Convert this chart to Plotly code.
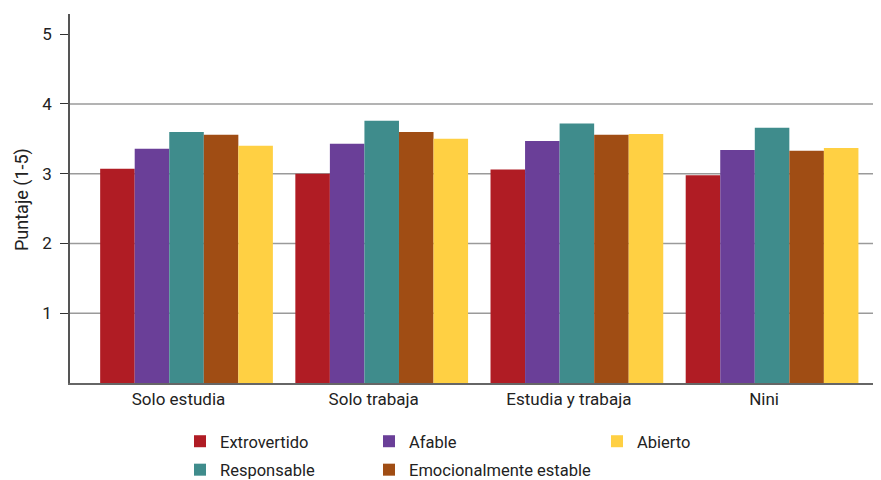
import plotly.graph_objects as go

categories = ["Solo estudia", "Solo trabaja", "Estudia y trabaja", "Nini"]
series_names = ["Extrovertido", "Afable", "Responsable", "Emocionalmente estable", "Abierto"]
extrovertido = [3.07, 3.00, 3.06, 2.98]
afable = [3.36, 3.43, 3.47, 3.34]
responsable = [3.60, 3.76, 3.72, 3.66]
emocional = [3.56, 3.60, 3.56, 3.33]
abierto = [3.40, 3.50, 3.57, 3.37]
y_ticks = [1, 2, 3, 4, 5]
grid_values = [1, 2, 3, 4]

values = [extrovertido, afable, responsable, emocional, abierto]
colors = ["#B01C24", "#6A3F98", "#3F8C8C", "#A04D14", "#FFD043"]
legend_ids = ["legend", "legend2", "legend", "legend2", "legend3"]
FONT = "Roboto, Liberation Sans, sans-serif"

fig = go.Figure()
for name, vals, col, lg in zip(series_names, values, colors, legend_ids):
    fig.add_trace(go.Bar(x=categories, y=vals, name=name, marker_color=col,
                         marker_line_width=0, legend=lg, legendgroup=name))

shapes = [dict(type="line", xref="paper", x0=0, x1=1, yref="y", y0=g, y1=g,
               line=dict(color="#9a9a9a", width=1.5), layer="below") for g in grid_values]

leg_common = dict(orientation="v", font=dict(family=FONT, size=16.5, color="#222"),
                  bgcolor="rgba(0,0,0,0)", xref="paper", yref="paper",
                  xanchor="left", yanchor="top", tracegroupgap=4, itemwidth=30)

# page offset of 8px (body margin); plot area in figure coords: x 62..872, y 6..375
W, H = 873, 472
L, T, R, B = 62, 6, 1, 97
PW, PH = W - L - R, H - T - B


def px_x(p):
    return (p - 8 - L) / PW


def px_y(p):
    return (H - B - (p - 8)) / PH


fig.update_layout(
    width=W, height=H,
    margin=dict(l=L, r=R, t=T, b=B, autoexpand=False),
    plot_bgcolor="white", paper_bgcolor="white",
    barmode="group", bargap=0.115, bargroupgap=0,
    font=dict(family=FONT, size=16, color="#222"),
    shapes=shapes,
    xaxis=dict(range=[-0.597, 3.553], showgrid=False, showline=True, automargin=False,
               linecolor="#666", linewidth=1.5, ticks="", ticklabelshift=-8,
               tickfont=dict(family=FONT, size=17, color="#222")),
    yaxis=dict(range=[0, 5.29], tickvals=y_ticks, showgrid=False, zeroline=False,
               automargin=False,
               showline=True, linecolor="#555", linewidth=1.5,
               ticks="outside", ticklen=8, tickcolor="#333", ticklabelstandoff=5,
               tickfont=dict(family=FONT, size=17, color="#222")),
    annotations=[dict(text="Puntaje (1-5)", textangle=-90, xref="paper", yref="paper",
                      x=px_x(22), y=px_y(200), xanchor="center", yanchor="middle",
                      showarrow=False, font=dict(family=FONT, size=18, color="#222"))],
    legend=dict(x=px_x(180), y=px_y(424), **leg_common),
    legend2=dict(x=px_x(369), y=px_y(424), **leg_common),
    legend3=dict(x=px_x(597), y=px_y(424), **leg_common),
)

fig.write_html("out.html")
